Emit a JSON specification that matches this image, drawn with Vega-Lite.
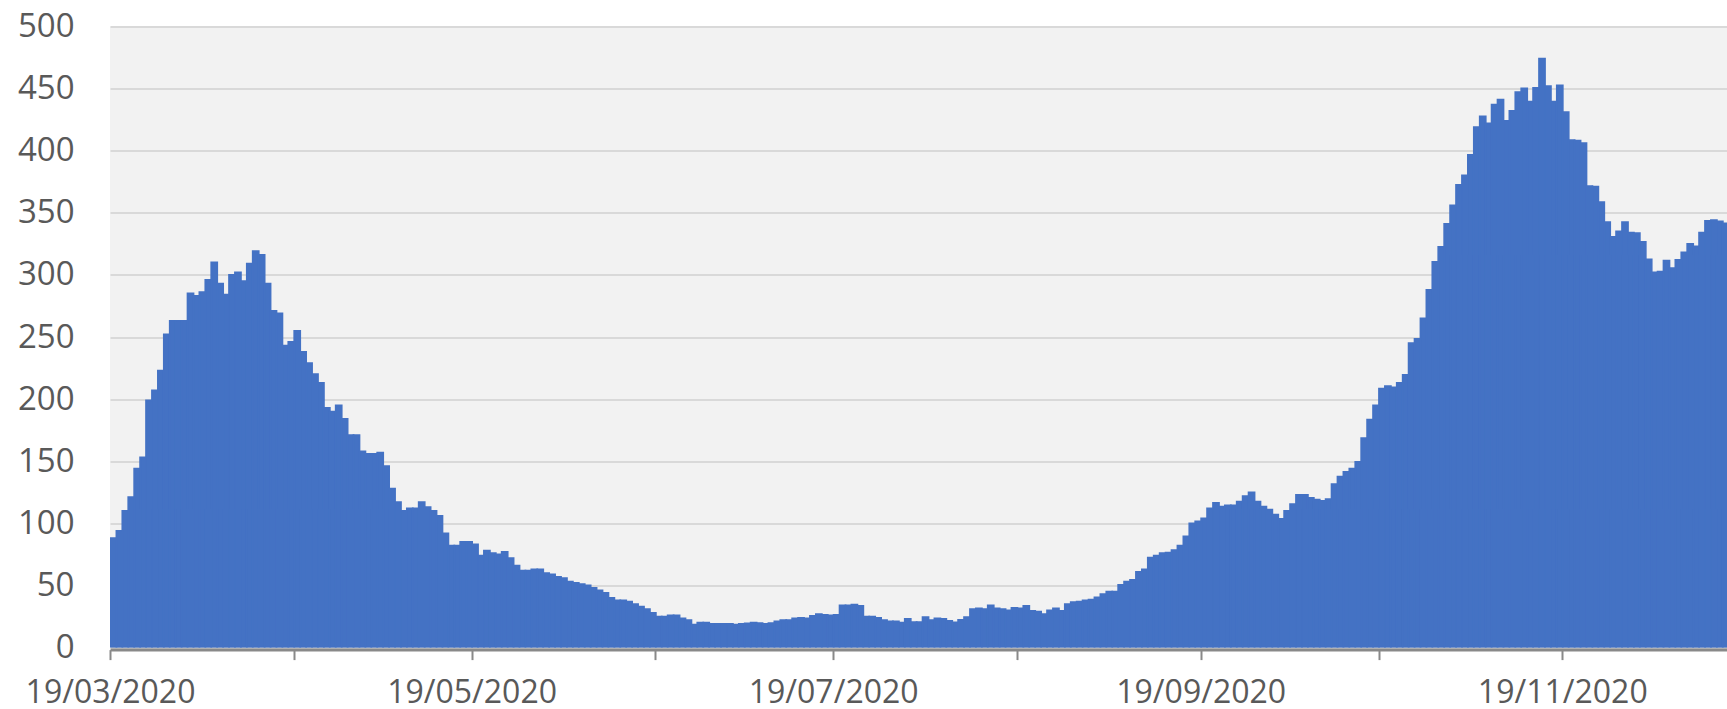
{
  "$schema": "https://vega.github.io/schema/vega-lite/v6.json",
  "autosize": {"type": "none"},
  "width": 1617,
  "height": 621.2,
  "padding": {"left": 110, "top": 26.4, "right": 0, "bottom": 61.4},
  "background": "#ffffff",
  "config": {"view": {"stroke": null, "fill": "#f2f2f2"}},
  "data": {
    "format": {"parse": {"d": "date:'%Y-%m-%d'"}},
    "values": [
      {"d":"2020-03-19","v":88},{"d":"2020-03-20","v":94},{"d":"2020-03-21","v":110},{"d":"2020-03-22","v":121},{"d":"2020-03-23","v":144},{"d":"2020-03-24","v":153},{"d":"2020-03-25","v":199},{"d":"2020-03-26","v":207},{"d":"2020-03-27","v":223},{"d":"2020-03-28","v":252},{"d":"2020-03-29","v":263},{"d":"2020-03-30","v":263},{"d":"2020-03-31","v":263},
      {"d":"2020-04-01","v":285},{"d":"2020-04-02","v":283},{"d":"2020-04-03","v":286},{"d":"2020-04-04","v":296},{"d":"2020-04-05","v":310},{"d":"2020-04-06","v":293},{"d":"2020-04-07","v":284},{"d":"2020-04-08","v":300},{"d":"2020-04-09","v":302},{"d":"2020-04-10","v":295},{"d":"2020-04-11","v":309},{"d":"2020-04-12","v":319},{"d":"2020-04-13","v":316},{"d":"2020-04-14","v":293},{"d":"2020-04-15","v":271},{"d":"2020-04-16","v":269},{"d":"2020-04-17","v":243},{"d":"2020-04-18","v":246},{"d":"2020-04-19","v":255},{"d":"2020-04-20","v":238},{"d":"2020-04-21","v":229},{"d":"2020-04-22","v":220},{"d":"2020-04-23","v":213},{"d":"2020-04-24","v":193},{"d":"2020-04-25","v":190},{"d":"2020-04-26","v":195},{"d":"2020-04-27","v":184},{"d":"2020-04-28","v":171},{"d":"2020-04-29","v":171},{"d":"2020-04-30","v":158},
      {"d":"2020-05-01","v":156},{"d":"2020-05-02","v":156},{"d":"2020-05-03","v":157},{"d":"2020-05-04","v":146},{"d":"2020-05-05","v":128},{"d":"2020-05-06","v":117},{"d":"2020-05-07","v":110},{"d":"2020-05-08","v":112},{"d":"2020-05-09","v":112},{"d":"2020-05-10","v":117},{"d":"2020-05-11","v":113},{"d":"2020-05-12","v":110},{"d":"2020-05-13","v":106},{"d":"2020-05-14","v":92},{"d":"2020-05-15","v":82},{"d":"2020-05-16","v":82},{"d":"2020-05-17","v":85},{"d":"2020-05-18","v":85},{"d":"2020-05-19","v":83},{"d":"2020-05-20","v":74},{"d":"2020-05-21","v":78},{"d":"2020-05-22","v":76},{"d":"2020-05-23","v":75},{"d":"2020-05-24","v":77},{"d":"2020-05-25","v":72},{"d":"2020-05-26","v":66},{"d":"2020-05-27","v":62},{"d":"2020-05-28","v":62},{"d":"2020-05-29","v":63},{"d":"2020-05-30","v":63},{"d":"2020-05-31","v":60},
      {"d":"2020-06-01","v":59},{"d":"2020-06-02","v":57},{"d":"2020-06-03","v":56},{"d":"2020-06-04","v":53},{"d":"2020-06-05","v":52},{"d":"2020-06-06","v":51},{"d":"2020-06-07","v":50},{"d":"2020-06-08","v":48},{"d":"2020-06-09","v":46},{"d":"2020-06-10","v":44},{"d":"2020-06-11","v":40},{"d":"2020-06-12","v":38},{"d":"2020-06-13","v":38},{"d":"2020-06-14","v":37},{"d":"2020-06-15","v":35},{"d":"2020-06-16","v":33},{"d":"2020-06-17","v":31},{"d":"2020-06-18","v":28},{"d":"2020-06-19","v":25},{"d":"2020-06-20","v":25},{"d":"2020-06-21","v":26},{"d":"2020-06-22","v":26},{"d":"2020-06-23","v":23.5},{"d":"2020-06-24","v":22},{"d":"2020-06-25","v":18.5},{"d":"2020-06-26","v":20},{"d":"2020-06-27","v":20},{"d":"2020-06-28","v":19},{"d":"2020-06-29","v":19},{"d":"2020-06-30","v":19},
      {"d":"2020-07-01","v":19},{"d":"2020-07-02","v":18.4},{"d":"2020-07-03","v":19},{"d":"2020-07-04","v":19.5},{"d":"2020-07-05","v":20},{"d":"2020-07-06","v":19.7},{"d":"2020-07-07","v":19},{"d":"2020-07-08","v":19.7},{"d":"2020-07-09","v":21},{"d":"2020-07-10","v":22},{"d":"2020-07-11","v":22},{"d":"2020-07-12","v":23.5},{"d":"2020-07-13","v":24},{"d":"2020-07-14","v":23.5},{"d":"2020-07-15","v":25.5},{"d":"2020-07-16","v":27},{"d":"2020-07-17","v":26.3},{"d":"2020-07-18","v":26},{"d":"2020-07-19","v":26.3},{"d":"2020-07-20","v":34},{"d":"2020-07-21","v":34},{"d":"2020-07-22","v":34.5},{"d":"2020-07-23","v":33.5},{"d":"2020-07-24","v":25},{"d":"2020-07-25","v":25},{"d":"2020-07-26","v":24},{"d":"2020-07-27","v":22},{"d":"2020-07-28","v":21},{"d":"2020-07-29","v":21},{"d":"2020-07-30","v":20},{"d":"2020-07-31","v":23},
      {"d":"2020-08-01","v":20.5},{"d":"2020-08-02","v":20.5},{"d":"2020-08-03","v":24.5},{"d":"2020-08-04","v":22},{"d":"2020-08-05","v":23.5},{"d":"2020-08-06","v":23},{"d":"2020-08-07","v":21.5},{"d":"2020-08-08","v":20.3},{"d":"2020-08-09","v":22.3},{"d":"2020-08-10","v":24.5},{"d":"2020-08-11","v":31},{"d":"2020-08-12","v":31.5},{"d":"2020-08-13","v":31},{"d":"2020-08-14","v":34},{"d":"2020-08-15","v":31.5},{"d":"2020-08-16","v":31},{"d":"2020-08-17","v":30},{"d":"2020-08-18","v":32},{"d":"2020-08-19","v":31.5},{"d":"2020-08-20","v":33.5},{"d":"2020-08-21","v":29.5},{"d":"2020-08-22","v":29},{"d":"2020-08-23","v":27},{"d":"2020-08-24","v":30},{"d":"2020-08-25","v":31.5},{"d":"2020-08-26","v":29.5},{"d":"2020-08-27","v":35},{"d":"2020-08-28","v":36.5},{"d":"2020-08-29","v":37},{"d":"2020-08-30","v":38},{"d":"2020-08-31","v":38.5},
      {"d":"2020-09-01","v":40.5},{"d":"2020-09-02","v":43},{"d":"2020-09-03","v":45},{"d":"2020-09-04","v":45},{"d":"2020-09-05","v":50.5},{"d":"2020-09-06","v":53},{"d":"2020-09-07","v":54.5},{"d":"2020-09-08","v":61},{"d":"2020-09-09","v":63},{"d":"2020-09-10","v":72.5},{"d":"2020-09-11","v":74},{"d":"2020-09-12","v":76},{"d":"2020-09-13","v":76.5},{"d":"2020-09-14","v":78.5},{"d":"2020-09-15","v":82},{"d":"2020-09-16","v":89.5},{"d":"2020-09-17","v":100},{"d":"2020-09-18","v":101.5},{"d":"2020-09-19","v":104},{"d":"2020-09-20","v":112},{"d":"2020-09-21","v":116.5},{"d":"2020-09-22","v":113.5},{"d":"2020-09-23","v":114.5},{"d":"2020-09-24","v":114.5},{"d":"2020-09-25","v":117.5},{"d":"2020-09-26","v":122},{"d":"2020-09-27","v":125},{"d":"2020-09-28","v":117.5},{"d":"2020-09-29","v":113.5},{"d":"2020-09-30","v":111},
      {"d":"2020-10-01","v":107},{"d":"2020-10-02","v":103.5},{"d":"2020-10-03","v":110},{"d":"2020-10-04","v":115.5},{"d":"2020-10-05","v":123},{"d":"2020-10-06","v":123},{"d":"2020-10-07","v":120.5},{"d":"2020-10-08","v":119},{"d":"2020-10-09","v":118},{"d":"2020-10-10","v":119.5},{"d":"2020-10-11","v":131.5},{"d":"2020-10-12","v":137.5},{"d":"2020-10-13","v":141.5},{"d":"2020-10-14","v":144},{"d":"2020-10-15","v":149.5},{"d":"2020-10-16","v":168.5},{"d":"2020-10-17","v":183.5},{"d":"2020-10-18","v":195},{"d":"2020-10-19","v":208.5},{"d":"2020-10-20","v":210.5},{"d":"2020-10-21","v":209.5},{"d":"2020-10-22","v":213},{"d":"2020-10-23","v":219.5},{"d":"2020-10-24","v":245},{"d":"2020-10-25","v":248.5},{"d":"2020-10-26","v":265},{"d":"2020-10-27","v":288},{"d":"2020-10-28","v":310.5},{"d":"2020-10-29","v":322.5},{"d":"2020-10-30","v":341},{"d":"2020-10-31","v":356},
      {"d":"2020-11-01","v":372.5},{"d":"2020-11-02","v":380},{"d":"2020-11-03","v":396.5},{"d":"2020-11-04","v":419},{"d":"2020-11-05","v":427.5},{"d":"2020-11-06","v":422},{"d":"2020-11-07","v":437},{"d":"2020-11-08","v":441},{"d":"2020-11-09","v":424},{"d":"2020-11-10","v":432},{"d":"2020-11-11","v":447},{"d":"2020-11-12","v":450},{"d":"2020-11-13","v":439.5},{"d":"2020-11-14","v":450.5},{"d":"2020-11-15","v":474},{"d":"2020-11-16","v":452},{"d":"2020-11-17","v":439.5},{"d":"2020-11-18","v":452.5},{"d":"2020-11-19","v":431},{"d":"2020-11-20","v":408.5},{"d":"2020-11-21","v":408},{"d":"2020-11-22","v":406},{"d":"2020-11-23","v":371.5},{"d":"2020-11-24","v":371},{"d":"2020-11-25","v":358.5},{"d":"2020-11-26","v":342.5},{"d":"2020-11-27","v":330.5},{"d":"2020-11-28","v":335},{"d":"2020-11-29","v":342.5},{"d":"2020-11-30","v":334},
      {"d":"2020-12-01","v":333.5},{"d":"2020-12-02","v":326.5},{"d":"2020-12-03","v":312.5},{"d":"2020-12-04","v":302},{"d":"2020-12-05","v":302.5},{"d":"2020-12-06","v":311.5},{"d":"2020-12-07","v":305.5},{"d":"2020-12-08","v":312},{"d":"2020-12-09","v":318},{"d":"2020-12-10","v":325},{"d":"2020-12-11","v":323},{"d":"2020-12-12","v":334},{"d":"2020-12-13","v":343.5},{"d":"2020-12-14","v":344},{"d":"2020-12-15","v":343},{"d":"2020-12-16","v":341.5}
    ]
  },
  "mark": {"type": "bar", "color": "#4472C4", "stroke": "#4472C4", "strokeWidth": 1.8, "strokeJoin": "miter", "binSpacing": 0, "clip": true},
  "encoding": {
    "x": {
      "field": "d",
      "type": "temporal",
      "timeUnit": "yearmonthdate",
      "scale": {"domain": [{"year": 2020, "month": 3, "date": 19}, {"year": 2020, "month": 12, "date": 16, "hours": 19}]},
      "axis": {
        "title": null,
        "values": [
          {"year": 2020, "month": 3, "date": 19}, {"year": 2020, "month": 4, "date": 19}, {"year": 2020, "month": 5, "date": 19},
          {"year": 2020, "month": 6, "date": 19}, {"year": 2020, "month": 7, "date": 19}, {"year": 2020, "month": 8, "date": 19},
          {"year": 2020, "month": 9, "date": 19}, {"year": 2020, "month": 10, "date": 19}, {"year": 2020, "month": 11, "date": 19}
        ],
        "labelExpr": "month(datum.value) % 2 == 0 ? timeFormat(datum.value, '%d/%m/%Y') : ''",
        "grid": false,
        "offset": 2,
        "domainColor": "#898989",
        "domainWidth": 3,
        "tickColor": "#898989",
        "tickWidth": 2,
        "tickSize": 10,
        "labelPadding": 18,
        "labelFont": "Open Sans",
        "labelFontSize": 32,
        "labelColor": "#595959",
        "labelOverlap": false,
        "labelBound": false,
        "labelFlush": false
      }
    },
    "y": {
      "field": "v",
      "type": "quantitative",
      "scale": {"domain": [0, 500], "nice": false},
      "axis": {
        "title": null,
        "values": [0, 50, 100, 150, 200, 250, 300, 350, 400, 450, 500],
        "domain": false,
        "ticks": false,
        "tickSize": 0,
        "labelPadding": 36,
        "labelFont": "Open Sans",
        "labelFontSize": 33,
        "labelColor": "#595959",
        "gridColor": "#d9d9d9",
        "gridWidth": 2
      }
    }
  }
}
